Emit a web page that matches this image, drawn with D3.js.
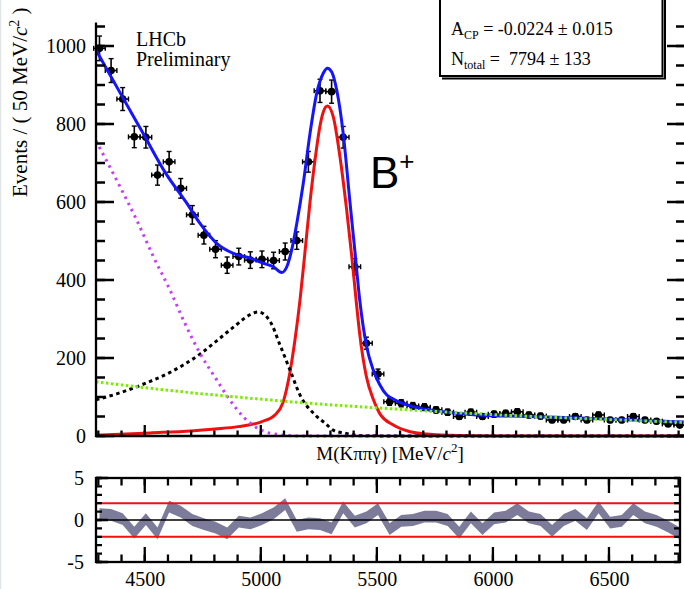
<!DOCTYPE html>
<html>
<head>
<meta charset="utf-8">
<script src="https://cdn.jsdelivr.net/npm/d3@7"></script>
<style>
  body { margin: 0; background: #fff; }
  text { font-family: "Liberation Serif", "Times New Roman", serif; fill: #000; }
</style>
</head>
<body>
<div id="chart"></div>
<script>
// bin centres (MeV/c^2) and event counts
const binMass = [4305, 4355, 4405, 4455, 4505, 4555, 4605, 4655, 4705, 4755,
  4805, 4855, 4905, 4955, 5005, 5055, 5105, 5155, 5205, 5255,
  5305, 5355, 5405, 5455, 5505, 5555, 5605, 5655, 5705, 5755,
  5805, 5855, 5905, 5955, 6005, 6055, 6105, 6155, 6205, 6255,
  6305, 6355, 6405, 6455, 6505, 6555, 6605, 6655, 6705, 6755, 6805];
const binCounts = [994, 937, 864, 767, 766, 669, 703, 635, 567, 515,
  479, 438, 460, 451, 453, 450, 473, 501, 703, 885,
  883, 766, 434, 238, 159, 88, 84, 77, 74, 67,
  61, 50, 61, 50, 56, 58, 62, 54, 51, 41,
  41, 50, 41, 54, 41, 41, 50, 41, 38, 31, 28];
// pulls shown in the lower pad, one per bin
const pulls = [0.7, 0.6, 0.1, -1.5, 0.1, -1.6, 1.6, 1.0, 0, -0.5,
  -0.9, -1.6, -0.2, -0.4, 0.1, 0.8, 1.9, -0.7, -0.4, -0.5,
  -1.0, 1.5, -0.2, 0.3, 1.3, -1.1, -0.1, 0, 0.4, 0.4,
  0, -1.5, 0.3, -1.1, 0.2, 0.4, 1.3, 0.3, 0, -1.3,
  0, 0.6, -0.5, 1.5, -0.3, -0.1, 1.3, 0.3, -0.1, -0.8, -1.6];

// fit curves, sampled [mass, events] from the picture
const totalFit = [[4290, 990], [4391, 883], [4491, 778], [4592, 672], [4681, 597], [4738, 545],
  [4810, 494], [4882, 468], [4954, 456], [5011, 443], [5054, 434], [5090, 419], [5112, 434],
  [5133, 477], [5155, 545], [5183, 648], [5212, 776], [5241, 879], [5269, 930], [5287, 943],
  [5305, 934], [5327, 887], [5355, 776], [5384, 600], [5406, 470], [5426, 350], [5455, 232],
  [5484, 170], [5512, 132], [5543, 105], [5571, 95], [5600, 86], [5686, 71], [5786, 62],
  [5930, 54], [6146, 50], [6433, 45], [6822, 36]];
const signal = [[4290, 2], [4523, 8], [4700, 13], [4803, 18], [4902, 24], [5005, 37], [5061, 54],
  [5095, 85], [5126, 165], [5148, 250], [5169, 349], [5190, 470], [5212, 600], [5234, 710],
  [5255, 795], [5270, 832], [5287, 846], [5312, 819], [5341, 716], [5370, 579], [5392, 460],
  [5412, 340], [5426, 262], [5455, 152], [5484, 95], [5512, 58], [5571, 28], [5643, 11],
  [5715, 5], [5850, 1], [6000, 0], [6822, 0]];
const partReco = [[4290, 93], [4379, 108], [4451, 123], [4523, 140], [4595, 159], [4666, 182],
  [4738, 210], [4810, 244], [4882, 279], [4954, 311], [4988, 318], [5040, 294], [5083, 233],
  [5126, 169], [5169, 105], [5234, 54], [5277, 33], [5312, 15], [5363, 7], [5427, 1],
  [5600, 0], [6822, 0]];
const lowMassBkg = [[4290, 757], [4379, 656], [4465, 554], [4537, 460], [4609, 374], [4673, 289],
  [4738, 212], [4810, 144], [4867, 92], [4925, 49], [4975, 24], [5018, 11], [5074, 4],
  [5169, 0], [6822, 0]];
const combBkg = [[4290, 139], [4500, 124], [4750, 108], [4954, 97], [5250, 82], [5427, 75],
  [5750, 63], [6000, 55], [6250, 48], [6500, 42], [6822, 35]];

// tick values
const majorX = [4500, 5000, 5500, 6000, 6500];
const minorX = d3.range(4300, 6801, 100);
const majorY = [0, 200, 400, 600, 800, 1000];
const minorY = d3.range(0, 1051, 50);
const majorP = [-5, 0, 5];
const minorP = d3.range(-5, 5.01, 1);

const svgWidth = 684;
const svgHeight = 589;

const svg = d3.select("#chart")
  .append("svg")
  .attr("width", svgWidth)
  .attr("height", svgHeight);

// faint edge of the original screenshot
svg.append("line")
  .attr("x1", 0.5).attr("x2", 0.5).attr("y1", 0).attr("y2", svgHeight)
  .attr("stroke", "#e2e5e8").attr("stroke-width", 1.5);

// scales
const x = d3.scaleLinear().domain([4290, 6806]).range([96, 680]);
const y = d3.scaleLinear().domain([0, 1060]).range([436, 22.6]);
const yPull = d3.scaleLinear().domain([-5, 5]).range([562, 478]);

const upperPad = svg.append("g");
const lowerPad = svg.append("g");

// inward tick marks as one path; side says which frame edge they sit on
function drawTicks(g, values, scale, side, at, len) {
  const horiz = side === "bottom" || side === "top";
  const dir = (side === "bottom" || side === "right") ? -1 : 1;
  const d = values.map(v => {
    const p = scale(v);
    return horiz ? `M${p},${at}V${at + dir * len}` : `M${at},${p}H${at + dir * len}`;
  }).join("");
  g.append("path")
    .attr("d", d)
    .attr("fill", "none")
    .attr("stroke", "#000")
    .attr("stroke-width", 2.3);
}

// tick labels through d3 axes
function labelsOnly(g) {
  g.select(".domain").remove();
  g.selectAll(".tick line").remove();
  g.selectAll("text")
    .style("font-size", "20px")
    .style("font-family", "Liberation Serif");
  return g;
}
const plainNum = d => String(d);

// ---------- upper pad ----------
// data points with error bars
const pts = upperPad.append("g");
const bins = binMass.map((m, i) => ({ m: m, n: binCounts[i] }));

pts.selectAll(".ev")
  .data(bins)
  .enter()
  .append("line")
  .attr("x1", d => x(d.m)).attr("x2", d => x(d.m))
  .attr("y1", d => y(d.n - Math.sqrt(d.n))).attr("y2", d => y(d.n + Math.sqrt(d.n)))
  .attr("stroke", "#000").attr("stroke-width", 1.6);
pts.selectAll(".eh")
  .data(bins)
  .enter()
  .append("line")
  .attr("x1", d => x(d.m - 25)).attr("x2", d => x(d.m + 25))
  .attr("y1", d => y(d.n)).attr("y2", d => y(d.n))
  .attr("stroke", "#000").attr("stroke-width", 1.6);
// end caps
bins.forEach(d => {
  [d.n - Math.sqrt(d.n), d.n + Math.sqrt(d.n)].forEach(v => {
    pts.append("line")
      .attr("x1", x(d.m) - 2.5).attr("x2", x(d.m) + 2.5)
      .attr("y1", y(v)).attr("y2", y(v))
      .attr("stroke", "#000").attr("stroke-width", 1.4);
  });
  [d.m - 25, d.m + 25].forEach(v => {
    pts.append("line")
      .attr("x1", x(v)).attr("x2", x(v))
      .attr("y1", y(d.n) - 2.5).attr("y2", y(d.n) + 2.5)
      .attr("stroke", "#000").attr("stroke-width", 1.4);
  });
});
pts.selectAll("circle")
  .data(bins)
  .enter()
  .append("circle")
  .attr("cx", d => x(d.m))
  .attr("cy", d => y(d.n))
  .attr("r", 3.8)
  .attr("fill", "#000");

// curves
const curveLine = d3.line()
  .x(d => x(d[0]))
  .y(d => y(d[1]))
  .curve(d3.curveMonotoneX);

upperPad.append("path").datum(totalFit)
  .attr("d", curveLine)
  .attr("fill", "none").attr("stroke", "#1414ff").attr("stroke-width", 3);
upperPad.append("path").datum(signal)
  .attr("d", curveLine)
  .attr("fill", "none").attr("stroke", "#f01010").attr("stroke-width", 3);
upperPad.append("path").datum(partReco)
  .attr("d", curveLine)
  .attr("fill", "none").attr("stroke", "#000").attr("stroke-width", 3)
  .attr("stroke-dasharray", "3.5,3.5");
upperPad.append("path").datum(lowMassBkg)
  .attr("d", curveLine)
  .attr("fill", "none").attr("stroke", "#c73cf8").attr("stroke-width", 3)
  .attr("stroke-dasharray", "2.5,4.5");
upperPad.append("path").datum(combBkg)
  .attr("d", curveLine)
  .attr("fill", "none").attr("stroke", "#77ee00").attr("stroke-width", 3)
  .attr("stroke-dasharray", "2.5,2.5");

// frame and ticks of the upper pad
upperPad.append("path")
  .attr("d", "M96,22.6V436H686")
  .attr("fill", "none").attr("stroke", "#000").attr("stroke-width", 2.3);

drawTicks(upperPad, minorX, x, "bottom", 436, 5.5);
drawTicks(upperPad, majorX, x, "bottom", 436, 11);
drawTicks(upperPad, minorY, y, "left", 96, 9);
drawTicks(upperPad, majorY, y, "left", 96, 18);
drawTicks(upperPad, minorY, y, "right", 685, 9);
drawTicks(upperPad, majorY, y, "right", 685, 18);

upperPad.append("g").attr("transform", "translate(96,0)")
  .call(d3.axisLeft(y).tickValues(majorY).tickSize(0).tickPadding(10).tickFormat(plainNum))
  .call(labelsOnly);

// axis titles
const yTitle = svg.append("text")
  .attr("transform", "translate(27,197) rotate(-90)")
  .style("font-size", "21px");
yTitle.append("tspan").text("Events / ( 50 MeV/");
yTitle.append("tspan").style("font-style", "italic").text("c");
yTitle.append("tspan").attr("dy", -8).style("font-size", "14px").text("2");
yTitle.append("tspan").attr("dy", 8).text(" )");

const xTitle = svg.append("text")
  .attr("x", 390).attr("y", 460)
  .attr("text-anchor", "middle")
  .style("font-size", "19px");
xTitle.append("tspan").text("M(K\u03c0\u03c0\u03b3) [MeV/");
xTitle.append("tspan").style("font-style", "italic").text("c");
xTitle.append("tspan").attr("dy", -8).style("font-size", "13px").text("2");
xTitle.append("tspan").attr("dy", 8).text("]");

// labels in the pad
svg.append("text").attr("x", 136).attr("y", 46).style("font-size", "20px").text("LHCb");
svg.append("text").attr("x", 136).attr("y", 66).style("font-size", "20px").text("Preliminary");

const bPlus = svg.append("text")
  .attr("x", 370).attr("y", 188)
  .style("font-family", "Liberation Sans, Arial, sans-serif")
  .style("font-size", "44px");
bPlus.append("tspan").text("B");
bPlus.append("tspan").attr("dy", -18).style("font-size", "26px").text("+");

// fit result box
svg.append("polyline")
  .attr("points", "665,-5 665,78.5 442,78.5")
  .attr("fill", "none").attr("stroke", "#000").attr("stroke-width", 2);
svg.append("rect")
  .attr("x", 440).attr("y", -10).attr("width", 222.5).attr("height", 86)
  .attr("fill", "#fff").attr("stroke", "#000").attr("stroke-width", 2);

const acp = svg.append("text").attr("x", 451).attr("y", 35).style("font-size", "18px");
acp.append("tspan").text("A");
acp.append("tspan").attr("dy", 4).style("font-size", "12px").text("CP");
acp.append("tspan").attr("dy", -4).text(" = -0.0224 \u00b1 0.015");

const ntot = svg.append("text").attr("x", 451).attr("y", 65).style("font-size", "18px");
ntot.append("tspan").text("N");
ntot.append("tspan").attr("dy", 4).style("font-size", "12px").text("total");
ntot.append("tspan").attr("dy", -4).text(" =\u00a0 7794 \u00b1 133");

// ---------- lower pad (pulls) ----------
const bandHalf = 0.7;
const pullBand = d3.area()
  .x((d, i) => x(binMass[i]))
  .y0(d => yPull(d - bandHalf))
  .y1(d => yPull(d + bandHalf));

lowerPad.append("path").datum(pulls)
  .attr("d", pullBand)
  .attr("fill", "#7c7c9a");

lowerPad.append("line")
  .attr("x1", 96).attr("x2", 680).attr("y1", yPull(0)).attr("y2", yPull(0))
  .attr("stroke", "#000").attr("stroke-width", 1.6);
[-2, 2].forEach(v => {
  lowerPad.append("line")
    .attr("x1", 96).attr("x2", 680).attr("y1", yPull(v)).attr("y2", yPull(v))
    .attr("stroke", "#f01010").attr("stroke-width", 2);
});

drawTicks(lowerPad, minorX, x, "bottom", 562, 7.5);
drawTicks(lowerPad, majorX, x, "bottom", 562, 15);
drawTicks(lowerPad, minorX, x, "top", 478, 7.5);
drawTicks(lowerPad, majorX, x, "top", 478, 15);
drawTicks(lowerPad, minorP, yPull, "left", 96, 6);
drawTicks(lowerPad, majorP, yPull, "left", 96, 12);
drawTicks(lowerPad, minorP, yPull, "right", 680, 6);

lowerPad.append("g").attr("transform", "translate(0,562)")
  .call(d3.axisBottom(x).tickValues(majorX).tickSize(0).tickPadding(10).tickFormat(plainNum))
  .call(labelsOnly);
lowerPad.append("g").attr("transform", "translate(96,0)")
  .call(d3.axisLeft(yPull).tickValues(majorP).tickSize(0).tickPadding(12).tickFormat(plainNum))
  .call(labelsOnly);

lowerPad.append("rect")
  .attr("x", 96).attr("y", 478).attr("width", 584).attr("height", 84)
  .attr("fill", "none").attr("stroke", "#000").attr("stroke-width", 2.3);
</script>
</body>
</html>
